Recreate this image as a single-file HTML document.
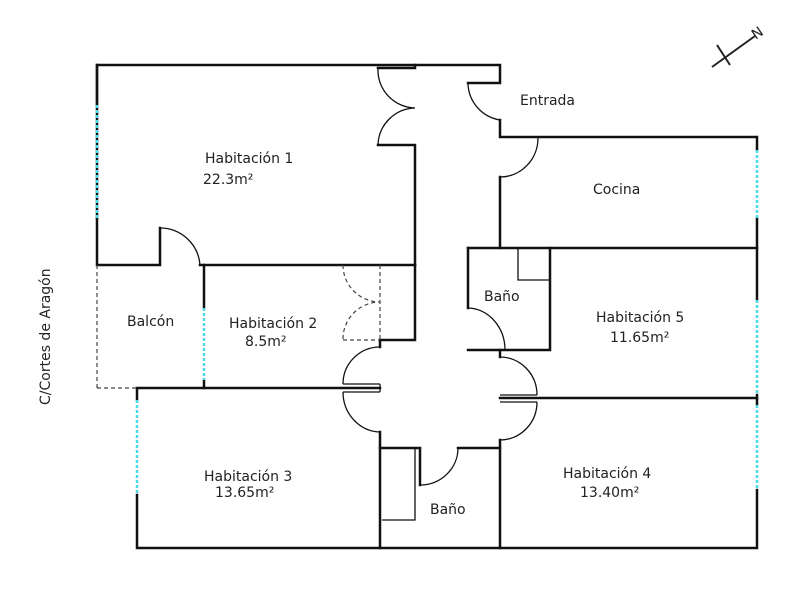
<!DOCTYPE html>
<html><head><meta charset="utf-8"><style>
body{margin:0;background:#fff;width:800px;height:600px;overflow:hidden}
svg{display:block}
text{font-family:"DejaVu Sans","Liberation Sans",sans-serif;font-size:14px;fill:#222}
</style></head><body>
<svg width="800" height="600" viewBox="0 0 800 600">
<g fill="none" stroke="#111" stroke-width="2.5" stroke-linecap="square">
<polyline points="97,218 97,65 500,65 500,83 468,83"/>
<polyline points="500,120 500,137 757,137 757,150"/>
<line x1="500" y1="177" x2="500" y2="248"/>
<polyline points="378,68 415,68 415,65"/>
<polyline points="378,145 415,145 415,265"/>
<polyline points="97,105 97,65"/>
<polyline points="97,218 97,265 160,265 160,228"/>
<line x1="200" y1="265" x2="415" y2="265"/>
<line x1="204" y1="265" x2="204" y2="308"/>
<line x1="204" y1="380" x2="204" y2="388"/>
<polyline points="415,265 415,340 380,340 380,347"/>
<polyline points="137,400 137,388 380,388"/>
<polyline points="380,432 380,448 420,448 420,485"/>
<polyline points="137,495 137,548 757,548 757,490"/>
<line x1="380" y1="448" x2="380" y2="548"/>
<polyline points="458,448 500,448 500,440"/>
<line x1="500" y1="448" x2="500" y2="548"/>
<line x1="468" y1="248" x2="757" y2="248"/>
<polyline points="468,308 468,248"/>
<polyline points="468,350 550,350 550,248"/>
<polyline points="500,350 500,357"/>
<line x1="500" y1="398" x2="757" y2="398"/>
<line x1="757" y1="218" x2="757" y2="300"/>
<line x1="757" y1="395" x2="757" y2="405"/>
</g>
<g fill="none" stroke="#111" stroke-width="1.3">
<line x1="343" y1="384" x2="380" y2="384"/><line x1="343" y1="392" x2="380" y2="392"/><line x1="380" y1="384" x2="380" y2="392"/>
<line x1="500" y1="395" x2="537" y2="395"/><line x1="500" y1="402" x2="537" y2="402"/>
<polyline points="518,248 518,280 550,280"/>
<polyline points="415,448 415,520 382,520"/>
<path d="M378,68 A38,38 0 0 0 415,108 A38,38 0 0 0 378,145"/>
<path d="M468,83 A38,38 0 0 0 500,120"/>
<path d="M538,138 A38,39 0 0 1 500,177"/>
<path d="M160,228 A40,40 0 0 1 200,265"/>
<path d="M468,308 A38,42 0 0 1 505,350"/>
<path d="M380,347 A37,37 0 0 0 343,384"/>
<path d="M343,392 A38,40 0 0 0 380,432"/>
<path d="M500,357 A37,38 0 0 1 537,395"/>
<path d="M537,402 A37,38 0 0 1 500,440"/>
<path d="M420,485 A38,37 0 0 0 458,448"/>
</g>
<g fill="none" stroke="#444" stroke-width="1.2" stroke-dasharray="4,3">
<line x1="380" y1="265" x2="380" y2="340"/>
<line x1="343" y1="340" x2="380" y2="340"/>
<path d="M343,265 A37,37 0 0 0 380,302 A37,37 0 0 0 343,340"/>
<line x1="97" y1="265" x2="97" y2="388"/>
<line x1="97" y1="388" x2="137" y2="388"/>
</g>
<g stroke="#4dd9e8" stroke-width="2.5" stroke-dasharray="3,2">
<line x1="97" y1="105" x2="97" y2="218"/>
<line x1="204" y1="308" x2="204" y2="380"/>
<line x1="137" y1="400" x2="137" y2="495"/>
<line x1="757" y1="150" x2="757" y2="218"/>
<line x1="757" y1="300" x2="757" y2="395"/>
<line x1="757" y1="405" x2="757" y2="490"/>
</g>
<g stroke="#222" stroke-width="2" fill="none">
<line x1="712" y1="67" x2="755" y2="36"/>
<line x1="717" y1="45" x2="730" y2="65"/>
</g>
<text x="752" y="36" transform="rotate(-35 760 32)" font-size="13">N</text>
<text x="205" y="163">Habitación 1</text>
<text x="203" y="184">22.3m²</text>
<text x="520" y="105">Entrada</text>
<text x="593" y="194">Cocina</text>
<text x="484" y="301">Baño</text>
<text x="596" y="322">Habitación 5</text>
<text x="610" y="342">11.65m²</text>
<text x="127" y="326">Balcón</text>
<text x="229" y="328">Habitación 2</text>
<text x="245" y="346">8.5m²</text>
<text x="204" y="481">Habitación 3</text>
<text x="215" y="497">13.65m²</text>
<text x="563" y="478">Habitación 4</text>
<text x="580" y="497">13.40m²</text>
<text x="430" y="514">Baño</text>
<text x="50" y="405" transform="rotate(-90 50 405)">C/Cortes de Aragón</text>
</svg>
</body></html>
